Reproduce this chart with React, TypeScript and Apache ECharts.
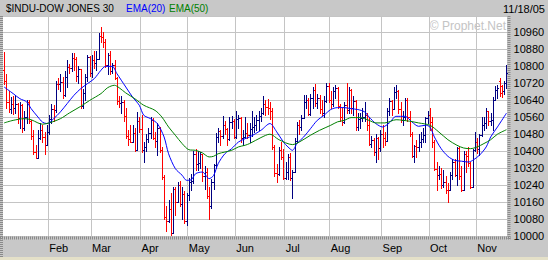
import React, { useEffect, useRef } from 'react';
import * as echarts from 'echarts';

// Trading days, Jan 3 2005 .. Nov 18 2005
const dates: string[] = [
  '1/3','1/4','1/5','1/6','1/7','1/10','1/11','1/12','1/13','1/14','1/18','1/19','1/20','1/21','1/24','1/25','1/26','1/27','1/28','1/31',
  '2/1','2/2','2/3','2/4','2/7','2/8','2/9','2/10','2/11','2/14','2/15','2/16','2/17','2/18','2/22','2/23','2/24','2/25','2/28',
  '3/1','3/2','3/3','3/4','3/7','3/8','3/9','3/10','3/11','3/14','3/15','3/16','3/17','3/18','3/21','3/22','3/23','3/24','3/28','3/29','3/30','3/31',
  '4/1','4/4','4/5','4/6','4/7','4/8','4/11','4/12','4/13','4/14','4/15','4/18','4/19','4/20','4/21','4/22','4/25','4/26','4/27','4/28','4/29',
  '5/2','5/3','5/4','5/5','5/6','5/9','5/10','5/11','5/12','5/13','5/16','5/17','5/18','5/19','5/20','5/23','5/24','5/25','5/26','5/27','5/31',
  '6/1','6/2','6/3','6/6','6/7','6/8','6/9','6/10','6/13','6/14','6/15','6/16','6/17','6/20','6/21','6/22','6/23','6/24','6/27','6/28','6/29','6/30',
  '7/1','7/5','7/6','7/7','7/8','7/11','7/12','7/13','7/14','7/15','7/18','7/19','7/20','7/21','7/22','7/25','7/26','7/27','7/28','7/29',
  '8/1','8/2','8/3','8/4','8/5','8/8','8/9','8/10','8/11','8/12','8/15','8/16','8/17','8/18','8/19','8/22','8/23','8/24','8/25','8/26','8/29','8/30','8/31',
  '9/1','9/2','9/6','9/7','9/8','9/9','9/12','9/13','9/14','9/15','9/16','9/19','9/20','9/21','9/22','9/23','9/26','9/27','9/28','9/29','9/30',
  '10/3','10/4','10/5','10/6','10/7','10/10','10/11','10/12','10/13','10/14','10/17','10/18','10/19','10/20','10/21','10/24','10/25','10/26','10/27','10/28','10/31',
  '11/1','11/2','11/3','11/4','11/7','11/8','11/9','11/10','11/11','11/14','11/15','11/16','11/17','11/18',
];

const opens: number[] = [
  10783,10729,10631,10598,10623,10604,10621,10556,10618,10506,10558,10629,10540,10471,10393,10369,10462,10499,10467,10427,
  10490,10552,10597,10593,10716,10715,10725,10664,10750,10796,10791,10837,10835,10754,10785,10611,10674,10749,10842,
  10766,10830,10812,10833,10941,10937,10913,10806,10852,10774,10805,10745,10633,10626,10630,10565,10471,10456,10443,10486,10406,10541,
  10504,10404,10421,10458,10486,10546,10461,10449,10508,10404,10279,10088,10071,10127,10012,10219,10158,10242,10151,10199,10070,
  10193,10252,10257,10385,10340,10345,10384,10281,10300,10189,10140,10252,10332,10464,10493,10472,10524,10503,10458,10538,10543,
  10467,10550,10553,10461,10467,10483,10477,10503,10513,10523,10548,10566,10579,10623,10609,10600,10588,10421,10298,10291,10406,10374,
  10275,10303,10372,10271,10302,10449,10520,10514,10557,10629,10641,10575,10647,10689,10628,10651,10596,10580,10637,10706,
  10641,10623,10684,10698,10610,10558,10537,10616,10594,10686,10600,10634,10513,10551,10555,10559,10570,10520,10435,10451,10397,10463,10413,
  10482,10460,10447,10589,10634,10596,10679,10683,10597,10545,10559,10642,10558,10482,10378,10422,10420,10444,10456,10473,10553,
  10569,10535,10441,10317,10287,10292,10239,10253,10217,10216,10287,10348,10285,10414,10281,10215,10385,10378,10345,10230,10403,
  10440,10407,10473,10523,10531,10586,10540,10546,10640,10686,10730,10705,10680,10720,
];

const highs: number[] = [
  10865,10760,10680,10655,10660,10665,10625,10632,10622,10590,10640,10640,10545,10500,10430,10500,10530,10520,10490,10520,
  10570,10620,10615,10730,10745,10760,10750,10775,10830,10810,10860,10860,10840,10800,10785,10690,10760,10850,10845,
  10850,10870,10870,10955,10985,10960,10925,10860,10870,10815,10830,10750,10660,10660,10640,10600,10500,10520,10520,10510,10585,10560,
  10570,10440,10480,10510,10560,10555,10490,10530,10515,10420,10285,10140,10170,10200,10230,10230,10255,10260,10230,10210,10200,
  10275,10290,10400,10410,10400,10395,10384,10330,10320,10230,10270,10340,10485,10510,10500,10565,10540,10510,10560,10565,10550,
  10590,10570,10560,10500,10560,10530,10530,10590,10560,10570,10590,10600,10660,10640,10645,10630,10600,10430,10340,10420,10440,10410,
  10350,10385,10390,10310,10460,10535,10545,10570,10665,10665,10650,10670,10700,10715,10670,10665,10640,10660,10720,10720,
  10680,10700,10710,10700,10620,10600,10630,10720,10700,10690,10660,10640,10580,10580,10600,10630,10580,10560,10470,10460,10480,10465,10500,
  10520,10490,10600,10650,10640,10700,10710,10685,10630,10590,10650,10650,10590,10490,10430,10450,10480,10490,10510,10560,10590,
  10600,10560,10450,10350,10330,10320,10310,10280,10250,10300,10360,10360,10420,10420,10330,10400,10400,10420,10350,10410,10490,
  10460,10480,10560,10560,10600,10590,10580,10655,10705,10710,10742,10711,10730,10805,
];

const lows: number[] = [
  10715,10600,10583,10580,10575,10580,10530,10510,10490,10500,10530,10530,10455,10385,10365,10369,10455,10440,10385,10427,
  10480,10530,10540,10585,10690,10680,10650,10660,10700,10765,10775,10780,10730,10720,10600,10600,10640,10730,10755,
  10750,10790,10780,10833,10915,10890,10795,10760,10760,10765,10740,10620,10605,10580,10540,10460,10430,10440,10440,10400,10406,10490,
  10395,10350,10400,10440,10460,10455,10420,10380,10395,10270,10080,10025,10065,10003,10012,10100,10158,10140,10080,10060,10050,
  10170,10215,10250,10310,10310,10320,10260,10220,10180,10080,10130,10220,10320,10440,10430,10460,10480,10430,10450,10510,10460,
  10460,10510,10440,10430,10460,10460,10440,10470,10490,10500,10500,10540,10575,10570,10575,10550,10410,10280,10255,10285,10360,10270,
  10270,10270,10265,10178,10300,10440,10480,10500,10557,10600,10570,10570,10600,10610,10600,10580,10570,10560,10630,10630,
  10600,10610,10650,10600,10540,10520,10530,10580,10580,10580,10570,10500,10500,10510,10540,10540,10500,10430,10420,10380,10350,10360,10400,
  10420,10430,10447,10570,10570,10596,10650,10580,10535,10520,10550,10540,10470,10370,10350,10370,10400,10420,10440,10440,10530,
  10500,10420,10310,10215,10270,10225,10230,10200,10158,10216,10270,10280,10240,10270,10210,10215,10300,10330,10225,10230,10400,
  10390,10380,10470,10500,10510,10520,10520,10500,10640,10650,10660,10656,10670,10695,
];

const closes: number[] = [
  10729,10631,10598,10623,10604,10621,10556,10618,10506,10558,10629,10540,10471,10393,10369,10462,10499,10467,10427,10490,
  10552,10597,10593,10716,10715,10725,10664,10750,10796,10791,10837,10835,10754,10785,10611,10674,10749,10842,10766,
  10830,10812,10833,10941,10937,10913,10806,10852,10774,10805,10745,10633,10626,10630,10565,10471,10456,10443,10486,10406,10541,10504,
  10404,10421,10458,10486,10546,10461,10449,10508,10404,10279,10088,10071,10127,10012,10219,10158,10242,10151,10199,10070,10193,
  10252,10257,10385,10340,10345,10384,10281,10300,10189,10140,10252,10332,10464,10493,10472,10524,10503,10458,10538,10543,10467,
  10550,10553,10461,10467,10483,10477,10503,10513,10523,10548,10566,10579,10623,10609,10600,10588,10421,10298,10291,10406,10374,10275,
  10303,10372,10271,10302,10449,10520,10514,10557,10629,10641,10575,10647,10689,10628,10651,10596,10580,10637,10706,10641,
  10623,10684,10698,10610,10558,10537,10616,10594,10686,10600,10634,10513,10551,10555,10559,10570,10520,10435,10451,10397,10463,10413,10482,
  10460,10447,10589,10634,10596,10679,10683,10597,10545,10559,10642,10558,10482,10378,10422,10420,10444,10456,10473,10553,10569,
  10535,10441,10317,10287,10292,10239,10253,10217,10216,10287,10348,10285,10414,10281,10215,10385,10378,10345,10230,10403,10440,
  10407,10473,10523,10531,10586,10540,10546,10640,10686,10697,10675,10680,10720,10766,
];

// EMA readings: [trading-day index, value]
const ema20: [number, number][] = [
  [0,10701],[4,10670],[7,10646],[10,10631],[12,10599],[15,10560],[17,10536],[19,10529],[22,10552],[25,10584],
  [28,10623],[31,10662],[34,10693],[37,10717],[40,10740],[43,10780],[45,10798],[48,10798],[50,10765],[52,10733],
  [54,10701],[57,10654],[60,10615],[62,10568],[65,10552],[68,10529],[71,10466],[73,10387],[76,10317],[79,10286],
  [81,10262],[83,10264],[85,10293],[88,10301],[91,10270],[93,10285],[95,10340],[98,10387],[101,10411],[104,10442],
  [107,10458],[109,10466],[114,10497],[118,10529],[121,10490],[124,10442],[126,10419],[128,10403],[130,10435],[133,10466],
  [136,10505],[139,10544],[142,10568],[145,10595],[148,10604],[151,10604],[154,10599],[157,10595],[160,10584],[162,10560],
  [165,10529],[168,10513],[171,10532],[174,10563],[178,10563],[181,10537],[184,10516],[187,10521],[189,10513],[191,10466],
  [194,10411],[197,10375],[200,10356],[203,10352],[206,10348],[208,10356],[211,10380],[214,10419],[216,10466],[219,10513],
  [223,10578],
];

const ema50: [number, number][] = [
  [0,10532],[4,10544],[9,10552],[12,10547],[15,10532],[17,10526],[20,10532],[25,10552],[29,10579],[34,10610],
  [38,10638],[43,10670],[46,10698],[49,10709],[51,10698],[54,10673],[58,10646],[62,10615],[67,10591],[70,10560],
  [73,10513],[76,10474],[79,10435],[82,10406],[85,10403],[88,10391],[91,10372],[93,10375],[95,10387],[98,10395],
  [101,10403],[104,10419],[107,10427],[109,10435],[114,10463],[118,10479],[122,10453],[128,10430],[131,10442],[136,10474],
  [140,10497],[145,10521],[148,10537],[151,10544],[154,10557],[158,10557],[162,10544],[165,10532],[169,10532],[174,10547],
  [180,10540],[184,10532],[189,10521],[193,10489],[197,10453],[201,10427],[204,10414],[207,10411],[210,10419],[213,10435],
  [216,10453],[219,10479],[223,10500],
];

const monthLabels: string[] = ['Feb','Mar','Apr','May','Jun','Jul','Aug','Sep','Oct','Nov'];
const monthStarts: number[] = [20,39,61,82,103,125,145,168,189,210];

const titleText = '$INDU-DOW JONES 30';
const dateText = '11/18/05';
const watermark = '\u00A9 Prophet.Net';

const FONT = '"Liberation Sans", Arial, sans-serif';
const UP = '#000080';
const DOWN = '#ff0000';
const GRIDC = '#c4c4c4';
const BG = '#c8c8c8';

export default function App() {
  const ref = useRef<HTMLDivElement>(null);
  useEffect(() => {
    document.body.style.margin = '0';
    const chart = echarts.init(ref.current as HTMLDivElement, null, { renderer: 'svg' });
    const ohlc = dates.map((_, i) => [i, opens[i], highs[i], lows[i], closes[i]]);
    const option: any = {
      animation: false,
      backgroundColor: BG,
      textStyle: { fontFamily: FONT },
      grid: { left: 3, right: 40.4, top: 16, bottom: 24, show: true, backgroundColor: '#ffffff', borderWidth: 0 },
      xAxis: {
        type: 'category',
        data: dates,
        boundaryGap: true,
        axisLine: { show: false },
        axisTick: { show: false },
        axisLabel: {
          interval: (idx: number) => monthStarts.indexOf(idx) >= 0,
          formatter: (_v: string, idx: number) => {
            const k = monthStarts.indexOf(idx);
            return k >= 0 ? monthLabels[k] : '';
          },
          align: 'left',
          margin: 6,
          color: '#000',
          fontSize: 11,
          fontFamily: FONT,
        },
        splitLine: {
          show: true,
          interval: (idx: number) => monthStarts.indexOf(idx) >= 0,
          lineStyle: { color: GRIDC, width: 1 },
        },
      },
      yAxis: {
        type: 'value',
        position: 'right',
        min: 10000,
        max: 11035,
        interval: 80,
        axisLine: { show: false },
        axisTick: { show: false },
        axisLabel: {
          showMaxLabel: false,
          margin: 6,
          color: '#000',
          fontSize: 11,
          fontFamily: FONT,
          formatter: (v: number) => String(Math.round(v)),
        },
        splitLine: { show: true, lineStyle: { color: GRIDC, width: 1 } },
      },
      series: [
        {
          type: 'custom',
          name: 'INDU',
          data: ohlc,
          encode: { x: 0, y: [1, 2, 3, 4] },
          z: 2,
          renderItem: (_params: any, api: any) => {
            const i = api.value(0);
            const o = api.value(1);
            const h = api.value(2);
            const l = api.value(3);
            const c = api.value(4);
            const ph = api.coord([i, h]);
            const pl = api.coord([i, l]);
            const po = api.coord([i, o]);
            const pc = api.coord([i, c]);
            const x = Math.round(ph[0]) + 0.5;
            const color = c >= o ? UP : DOWN;
            const st = { stroke: color, lineWidth: 1 };
            const yo = Math.round(po[1]) + 0.5;
            const yc = Math.round(pc[1]) + 0.5;
            return {
              type: 'group',
              children: [
                { type: 'line', shape: { x1: x, y1: Math.round(ph[1]), x2: x, y2: Math.round(pl[1]) + 1 }, style: st },
                { type: 'line', shape: { x1: x - 1.5, y1: yo, x2: x, y2: yo }, style: st },
                { type: 'line', shape: { x1: x, y1: yc, x2: x + 1.5, y2: yc }, style: st },
              ],
            };
          },
        },
        {
          type: 'line',
          name: 'EMA(20)',
          data: ema20,
          showSymbol: false,
          smooth: 0.3,
          z: 3,
          lineStyle: { color: '#0000ff', width: 1 },
        },
        {
          type: 'line',
          name: 'EMA(50)',
          data: ema50,
          showSymbol: false,
          smooth: 0.3,
          z: 3,
          lineStyle: { color: '#008000', width: 1 },
        },
      ],
      graphic: [
        { type: 'line', z: 10, shape: { x1: 1.5, y1: 16, x2: 1.5, y2: 257 }, style: { stroke: '#8a8a8a', lineWidth: 3, lineDash: [1, 1] } },
        { type: 'line', z: 10, shape: { x1: 509, y1: 16, x2: 509, y2: 239.5 }, style: { stroke: '#8a8a8a', lineWidth: 3, lineDash: [1, 1] } },
        { type: 'line', z: 10, shape: { x1: 0, y1: 238, x2: 510.5, y2: 238 }, style: { stroke: '#8a8a8a', lineWidth: 3, lineDash: [1, 1] } },
        { type: 'rect', z: 10, shape: { x: 0, y: 257, width: 548, height: 3 }, style: { fill: '#e4e0c8' } },
        { type: 'text', z: 10, style: { text: titleText, x: 6, y: 8.5, fill: '#000', font: `10px ${FONT}`, textAlign: 'left', textVerticalAlign: 'middle' } },
        { type: 'text', z: 10, style: { text: 'EMA(20)', x: 126, y: 8.5, fill: '#0000ff', font: `10px ${FONT}`, textAlign: 'left', textVerticalAlign: 'middle' } },
        { type: 'text', z: 10, style: { text: 'EMA(50)', x: 169, y: 8.5, fill: '#008000', font: `10px ${FONT}`, textAlign: 'left', textVerticalAlign: 'middle' } },
        { type: 'text', z: 10, style: { text: dateText, x: 545, y: 9, fill: '#000', font: `11px ${FONT}`, textAlign: 'right', textVerticalAlign: 'middle' } },
        { type: 'text', z: 1, style: { text: watermark, x: 506, y: 26, fill: '#c4c4c4', font: `12px ${FONT}`, textAlign: 'right', textVerticalAlign: 'middle' } },
      ],
    };
    chart.setOption(option);
    return () => {
      chart.dispose();
    };
  }, []);
  return <div ref={ref} style={{ width: 548, height: 260 }} />;
}
